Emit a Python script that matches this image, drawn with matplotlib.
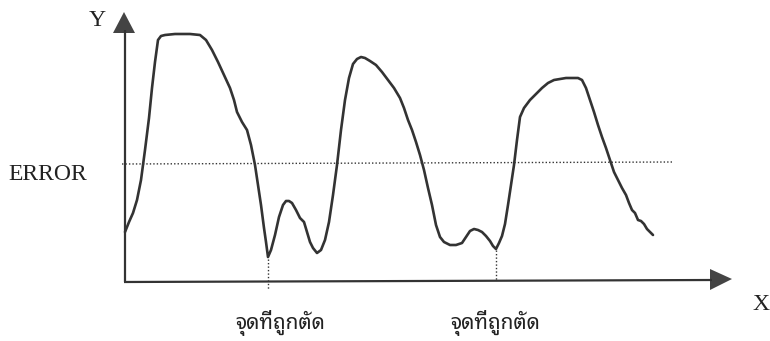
import matplotlib
matplotlib.use("Agg")
import matplotlib.pyplot as plt

# --- data (diagram units: pixel-like, y grows downward) ---
curve_x = [125, 129, 133, 137, 141, 145, 149, 152, 155, 158, 161, 165, 175, 190, 200, 206,
           212, 218, 224, 230, 234, 237, 242, 247, 251, 255, 258, 261, 264, 266, 268,
           271, 275, 279, 283, 286, 289, 292, 296, 300, 304, 307, 310, 313, 317, 321,
           325, 329, 333, 337, 341, 345, 349, 353, 357, 361, 365, 370, 376, 382, 388,
           394, 400, 404, 408, 412, 416, 420, 424, 428, 432, 436, 440, 444, 450, 456,
           462, 466, 470, 474, 478, 482, 486, 490, 493, 496, 499, 502, 505, 508, 511,
           514, 517, 520, 524, 530, 536, 542, 548, 554, 560, 566, 572, 578, 582, 586,
           590, 594, 598, 602, 606, 610, 614, 618, 622, 626, 629, 632, 635, 638, 641,
           644, 647, 650, 653]
curve_y = [232, 222, 213, 200, 180, 150, 118, 88, 62, 40, 36, 35, 34, 34, 35, 40,
           50, 62, 75, 88, 100, 112, 122, 130, 145, 165, 185, 205, 228, 242, 257,
           250, 235, 217, 205, 201, 201, 203, 210, 218, 222, 232, 242, 248, 253, 250,
           240, 222, 195, 165, 130, 100, 78, 64, 59, 57, 58, 61, 65, 72, 80,
           88, 98, 108, 120, 130, 142, 155, 170, 188, 205, 225, 237, 242, 245, 245,
           243, 237, 231, 229, 230, 232, 236, 241, 246, 249, 243, 236, 224, 205, 185,
           165, 140, 117, 108, 100, 94, 88, 83, 80, 79, 78, 78, 78, 80, 88,
           100, 112, 125, 137, 148, 160, 172, 180, 188, 195, 203, 210, 213, 220, 221,
           224, 229, 232, 235]
error_y = 164
cut_x = [268, 496]
cut_y = [259, 250]
cut_label = "จุดที่ถูกตัด"
axis_labels = ["X", "Y"]
threshold_label = "ERROR"

ink = "#333333"
txt = "#222222"
thai_family = ["Noto Sans Thai Looped", "Sarabun", "DejaVu Sans"]
serif = "Liberation Serif"

fig = plt.figure(figsize=(7.7, 3.41), dpi=100)
ax = fig.add_axes([0, 0, 1, 1])
ax.set_xlim(0, 770)
ax.set_ylim(341, 0)
ax.axis("off")

# axes lines and arrowheads
ax.plot([125, 125], [282, 30], color=ink, lw=1.6, solid_capstyle="butt")
ax.plot([124, 712], [282, 280], color=ink, lw=1.6, solid_capstyle="butt")
ax.fill([113, 135, 124], [33, 33, 12], color="#444444", lw=0)
ax.fill([710, 710, 732], [269, 290, 279], color="#444444", lw=0)

# error threshold
ax.plot([122, 673], [error_y, error_y - 2], color=ink, lw=1.0, ls=(0, (1, 1.5)))

# curve
ax.plot(curve_x, curve_y, color=ink, lw=1.9, solid_joinstyle="round", solid_capstyle="round")

# cut points
for cx, cy, bottom in zip(cut_x, cut_y, [290, 280]):
    ax.plot([cx, cx], [cy, bottom], color=ink, lw=1.0, ls=(0, (1, 1.5)))
ax.text(280, 323, cut_label, ha="center", va="center", fontsize=15, family=thai_family, color=txt)
ax.text(495, 323, cut_label, ha="center", va="center", fontsize=15, family=thai_family, color=txt)

ax.text(8, 175, threshold_label, ha="left", va="center", fontsize=17, family=serif, color=txt)
ax.text(97, 20, axis_labels[1], ha="center", va="center", fontsize=17, family=serif, color=txt)
ax.text(761, 305, axis_labels[0], ha="center", va="center", fontsize=17, family=serif, color=txt)

fig.savefig("out.png", dpi=100)
